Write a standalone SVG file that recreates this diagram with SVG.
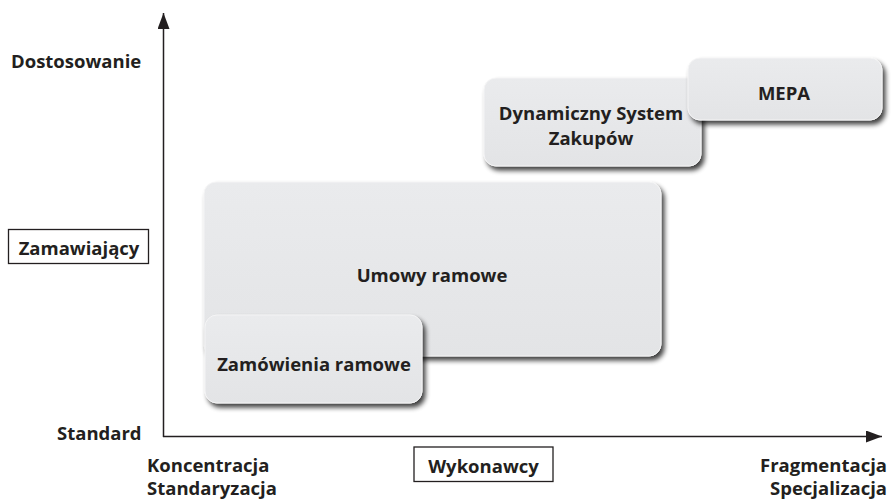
<svg xmlns="http://www.w3.org/2000/svg" width="892" height="500" viewBox="0 0 892 500">
<defs>
<filter id="sh" x="-10%" y="-10%" width="125%" height="130%">
<feGaussianBlur in="SourceAlpha" stdDeviation="2.5" result="b"/>
<feOffset dx="3" dy="4" result="o"/>
<feComponentTransfer in="o" result="s"><feFuncA type="linear" slope="0.75"/></feComponentTransfer>
<feMerge><feMergeNode in="s"/><feMergeNode in="SourceGraphic"/></feMerge>
</filter>
<linearGradient id="g" x1="0" y1="0" x2="0" y2="1">
<stop offset="0" stop-color="#eaebed"/>
<stop offset="1" stop-color="#e3e4e6"/>
</linearGradient>
<marker id="ah" viewBox="0 0 16 12" refX="16" refY="6" markerWidth="16" markerHeight="12" markerUnits="userSpaceOnUse" orient="auto">
<path d="M0,0 L16,6 L0,12 Z" fill="#231f20"/>
</marker>
<style>
.box{fill:url(#g);stroke:#f4f4f5;stroke-width:1;filter:url(#sh)}
.t{font-family:"Open Sans","Noto Sans","Liberation Sans",sans-serif;font-weight:700;font-size:18.5px;fill:#231f20}
.c{text-anchor:middle}
.lab{fill:#fff;stroke:#231f20;stroke-width:1.3}
.ax{stroke:#231f20;stroke-width:1.5;fill:none}
</style>
</defs>
<g id="connectors">
<line class="ax" x1="163.5" y1="437" x2="163.5" y2="13" marker-end="url(#ah)"/>
<line class="ax" x1="163" y1="436.5" x2="882" y2="436.5" marker-end="url(#ah)"/>
</g>
<g id="umowy-ramowe">
<rect class="box" x="204" y="182" width="457" height="174" rx="12"/>
<text class="t c" x="432" y="282">Umowy ramowe</text>
</g>
<g id="zamowienia-ramowe">
<rect class="box" x="205" y="315" width="217" height="88" rx="12"/>
<text class="t c" x="314" y="371">Zamówienia ramowe</text>
</g>
<g id="dsz">
<rect class="box" x="484" y="78" width="217" height="88" rx="12"/>
<text class="t c" x="591" y="120">Dynamiczny System</text>
<text class="t c" x="591" y="145">Zakupów</text>
</g>
<g id="mepa">
<rect class="box" x="688" y="58" width="194" height="62" rx="12"/>
<text class="t c" x="784" y="100">MEPA</text>
</g>
<g id="y-labels">
<text class="t" x="11" y="68">Dostosowanie</text>
<text class="t" x="57" y="440">Standard</text>
<rect class="lab" x="8.5" y="229.5" width="140" height="34"/>
<text class="t c" x="79" y="255">Zamawiający</text>
</g>
<g id="x-labels">
<text class="t" x="147" y="472">Koncentracja</text>
<text class="t" x="147" y="495">Standaryzacja</text>
<rect class="lab" x="414" y="447" width="139" height="34.5"/>
<text class="t c" x="483.5" y="473">Wykonawcy</text>
<text class="t" x="887" y="472" text-anchor="end">Fragmentacja</text>
<text class="t" x="887" y="495" text-anchor="end">Specjalizacja</text>
</g>
</svg>
